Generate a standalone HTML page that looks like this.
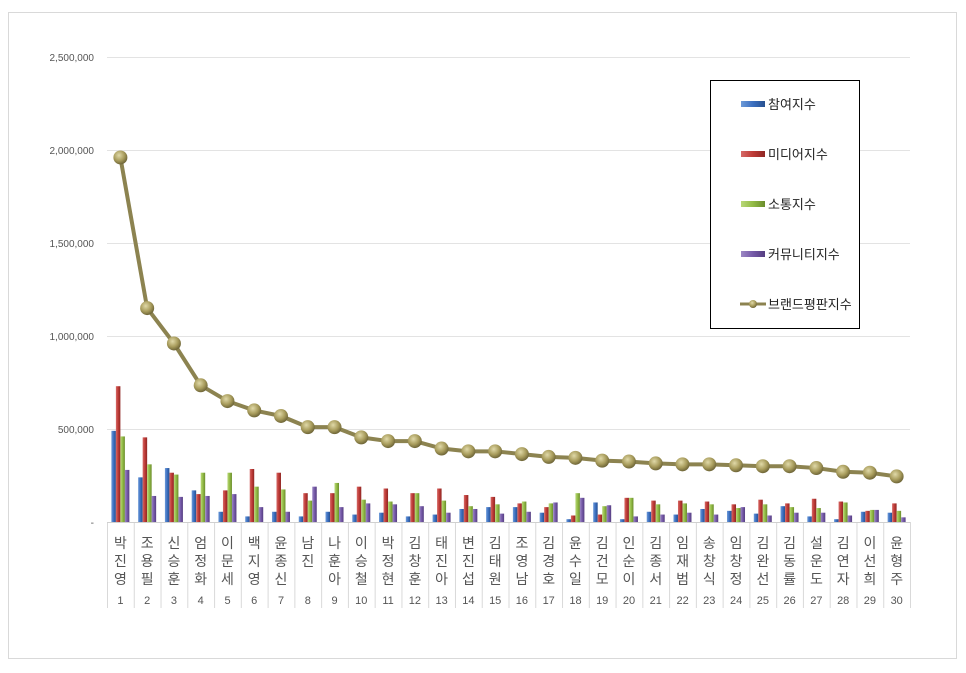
<!DOCTYPE html>
<html><head><meta charset="utf-8"><style>
body{margin:0;background:#fff;}
svg text{font-family:"Liberation Sans","Noto Sans CJK KR",sans-serif;}
</style></head><body>
<svg id="c" width="966" height="668" xmlns="http://www.w3.org/2000/svg">
<defs>
<radialGradient id="mk" cx="40%" cy="35%" r="65%"><stop offset="0" stop-color="#e0d9a8"/><stop offset="0.6" stop-color="#a89c5c"/><stop offset="1" stop-color="#6f6638"/></radialGradient>
<linearGradient id="gb" x1="0" x2="1"><stop offset="0" stop-color="#6d9ad8"/><stop offset="0.5" stop-color="#3b6fc0"/><stop offset="1" stop-color="#27508f"/></linearGradient>
<linearGradient id="gr" x1="0" x2="1"><stop offset="0" stop-color="#d66a67"/><stop offset="0.5" stop-color="#be3a36"/><stop offset="1" stop-color="#8e2623"/></linearGradient>
<linearGradient id="gg" x1="0" x2="1"><stop offset="0" stop-color="#b9d878"/><stop offset="0.5" stop-color="#92bb45"/><stop offset="1" stop-color="#6a8c2c"/></linearGradient>
<linearGradient id="gp" x1="0" x2="1"><stop offset="0" stop-color="#9c88c4"/><stop offset="0.5" stop-color="#7559a8"/><stop offset="1" stop-color="#553e80"/></linearGradient>
</defs>
<rect x="8.5" y="12.5" width="948" height="646" fill="#fff" stroke="#d9d9d9"/>
<g stroke="#e3e3e3" stroke-width="1">
<line x1="107" x2="910" y1="57.5" y2="57.5"/><line x1="107" x2="910" y1="150.5" y2="150.5"/><line x1="107" x2="910" y1="243.5" y2="243.5"/><line x1="107" x2="910" y1="336.5" y2="336.5"/><line x1="107" x2="910" y1="429.5" y2="429.5"/>
</g>
<g font-size="10" fill="#555" text-anchor="end">
<text x="94" y="61">2,500,000</text><text x="94" y="154">2,000,000</text><text x="94" y="247">1,500,000</text><text x="94" y="340">1,000,000</text><text x="94" y="433">500,000</text><text x="94" y="526">-</text>
</g>
<g id="bars"></g>
<g id="seps" stroke="#d9d9d9"></g>
<g id="line"></g>
<g font-size="14" fill="#555" text-anchor="middle" id="names">
<text x="120.4" y="548">박</text><text x="120.4" y="566">진</text><text x="120.4" y="584">영</text>
<text x="147.2" y="548">조</text><text x="147.2" y="566">용</text><text x="147.2" y="584">필</text>
<text x="173.9" y="548">신</text><text x="173.9" y="566">승</text><text x="173.9" y="584">훈</text>
<text x="200.7" y="548">엄</text><text x="200.7" y="566">정</text><text x="200.7" y="584">화</text>
<text x="227.5" y="548">이</text><text x="227.5" y="566">문</text><text x="227.5" y="584">세</text>
<text x="254.2" y="548">백</text><text x="254.2" y="566">지</text><text x="254.2" y="584">영</text>
<text x="281.0" y="548">윤</text><text x="281.0" y="566">종</text><text x="281.0" y="584">신</text>
<text x="307.8" y="548">남</text><text x="307.8" y="566">진</text>
<text x="334.6" y="548">나</text><text x="334.6" y="566">훈</text><text x="334.6" y="584">아</text>
<text x="361.3" y="548">이</text><text x="361.3" y="566">승</text><text x="361.3" y="584">철</text>
<text x="388.1" y="548">박</text><text x="388.1" y="566">정</text><text x="388.1" y="584">현</text>
<text x="414.9" y="548">김</text><text x="414.9" y="566">창</text><text x="414.9" y="584">훈</text>
<text x="441.6" y="548">태</text><text x="441.6" y="566">진</text><text x="441.6" y="584">아</text>
<text x="468.4" y="548">변</text><text x="468.4" y="566">진</text><text x="468.4" y="584">섭</text>
<text x="495.2" y="548">김</text><text x="495.2" y="566">태</text><text x="495.2" y="584">원</text>
<text x="521.9" y="548">조</text><text x="521.9" y="566">영</text><text x="521.9" y="584">남</text>
<text x="548.7" y="548">김</text><text x="548.7" y="566">경</text><text x="548.7" y="584">호</text>
<text x="575.5" y="548">윤</text><text x="575.5" y="566">수</text><text x="575.5" y="584">일</text>
<text x="602.2" y="548">김</text><text x="602.2" y="566">건</text><text x="602.2" y="584">모</text>
<text x="629.0" y="548">인</text><text x="629.0" y="566">순</text><text x="629.0" y="584">이</text>
<text x="655.8" y="548">김</text><text x="655.8" y="566">종</text><text x="655.8" y="584">서</text>
<text x="682.6" y="548">임</text><text x="682.6" y="566">재</text><text x="682.6" y="584">범</text>
<text x="709.3" y="548">송</text><text x="709.3" y="566">창</text><text x="709.3" y="584">식</text>
<text x="736.1" y="548">임</text><text x="736.1" y="566">창</text><text x="736.1" y="584">정</text>
<text x="762.9" y="548">김</text><text x="762.9" y="566">완</text><text x="762.9" y="584">선</text>
<text x="789.6" y="548">김</text><text x="789.6" y="566">동</text><text x="789.6" y="584">률</text>
<text x="816.4" y="548">설</text><text x="816.4" y="566">운</text><text x="816.4" y="584">도</text>
<text x="843.2" y="548">김</text><text x="843.2" y="566">연</text><text x="843.2" y="584">자</text>
<text x="869.9" y="548">이</text><text x="869.9" y="566">선</text><text x="869.9" y="584">희</text>
<text x="896.7" y="548">윤</text><text x="896.7" y="566">형</text><text x="896.7" y="584">주</text>
</g>
<g font-size="11" fill="#555" text-anchor="middle">
<text x="120.4" y="604">1</text><text x="147.2" y="604">2</text><text x="173.9" y="604">3</text><text x="200.7" y="604">4</text><text x="227.5" y="604">5</text><text x="254.2" y="604">6</text><text x="281.0" y="604">7</text><text x="307.8" y="604">8</text><text x="334.6" y="604">9</text><text x="361.3" y="604">10</text><text x="388.1" y="604">11</text><text x="414.9" y="604">12</text><text x="441.6" y="604">13</text><text x="468.4" y="604">14</text><text x="495.2" y="604">15</text><text x="521.9" y="604">16</text><text x="548.7" y="604">17</text><text x="575.5" y="604">18</text><text x="602.2" y="604">19</text><text x="629.0" y="604">20</text><text x="655.8" y="604">21</text><text x="682.6" y="604">22</text><text x="709.3" y="604">23</text><text x="736.1" y="604">24</text><text x="762.9" y="604">25</text><text x="789.6" y="604">26</text><text x="816.4" y="604">27</text><text x="843.2" y="604">28</text><text x="869.9" y="604">29</text><text x="896.7" y="604">30</text>
</g>
<rect x="710.5" y="80.5" width="149" height="248" fill="#fff" stroke="#000"/>
<rect x="741" y="101" width="24" height="6" fill="url(#gb)"/>
<rect x="741" y="151" width="24" height="6" fill="url(#gr)"/>
<rect x="741" y="201" width="24" height="6" fill="url(#gg)"/>
<rect x="741" y="251" width="24" height="6" fill="url(#gp)"/>
<line x1="740" x2="766" y1="304" y2="304" stroke="#8c8350" stroke-width="3"/>
<circle cx="753" cy="304" r="4" fill="url(#mk)"/>
<g font-size="13" fill="#222">
<text x="768" y="109">참여지수</text><text x="768" y="159">미디어지수</text><text x="768" y="209">소통지수</text><text x="768" y="259">커뮤니티지수</text><text x="768" y="309">브랜드평판지수</text>
</g>
</svg>
<script>
var bars=[[490,730,460,280],[240,455,310,140],[290,265,255,135],[170,150,265,140],[55,170,265,150],[30,285,190,80],[55,265,175,55],[30,155,115,190],[55,155,210,80],[40,190,120,100],[50,180,110,95],[30,155,155,85],[40,180,115,50],[70,145,85,70],[80,135,95,45],[80,100,110,55],[50,80,100,105],[15,35,155,130],[105,40,85,90],[15,130,130,30],[55,115,95,40],[40,115,100,50],[70,110,95,40],[60,95,75,80],[45,120,95,35],[85,100,80,50],[30,125,75,50],[15,110,105,35],[55,60,65,65],[50,100,60,25]];
var line=[1960,1150,960,735,650,600,570,510,510,455,435,435,395,380,380,365,350,345,330,325,315,310,310,305,300,300,290,270,265,245];
var ns="http://www.w3.org/2000/svg",W=803/30,fills=["url(#gb)","url(#gr)","url(#gg)","url(#gp)"];
function Y(v){return 522-v*0.186;}
function el(t,a,p){var e=document.createElementNS(ns,t);for(var k in a)e.setAttribute(k,a[k]);p.appendChild(e);return e;}
var gb=document.getElementById('bars'),gs=document.getElementById('seps'),gl=document.getElementById('line');
for(var i=0;i<30;i++){var cx=107+W*(i+.5);
 for(var j=0;j<4;j++){var y=Y(bars[i][j]);el('rect',{x:cx-9+j*4.5,y:y,width:4.5,height:522-y,fill:fills[j]},gb);}
 el('line',{x1:107+W*i+.5,x2:107+W*i+.5,y1:522,y2:608},gs);}
el('line',{x1:910.5,x2:910.5,y1:522,y2:608},gs);
el('line',{x1:107,x2:910,y1:522.5,y2:522.5,stroke:'#d0d0d0'},gs);
var pts=line.map(function(v,i){return (107+W*(i+.5))+','+Y(v);});
el('polyline',{points:pts.join(' '),fill:'none',stroke:'#8c8350','stroke-width':4},gl);
line.forEach(function(v,i){el('circle',{cx:107+W*(i+.5),cy:Y(v),r:7,fill:'url(#mk)'},gl);});
</script>
</body></html>
